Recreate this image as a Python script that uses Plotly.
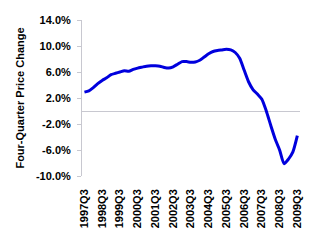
import plotly.graph_objects as go

quarters = []
for y in range(1997, 2010):
    for q in range(1, 5):
        quarters.append(f"{y}Q{q}")
quarters = quarters[quarters.index("1997Q3"):quarters.index("2009Q3") + 1]

price_change = [2.9, 3.1, 3.6, 4.2, 4.7, 5.1, 5.6, 5.8, 6.0, 6.2,
                6.1, 6.4, 6.6, 6.75, 6.9, 6.95, 6.95, 6.9, 6.7, 6.6,
                6.8, 7.2, 7.6, 7.6, 7.5, 7.55, 7.8, 8.3, 8.8, 9.15,
                9.3, 9.4, 9.5, 9.4, 9.0, 8.1, 6.3, 4.5, 3.3, 2.6,
                1.8, 0.0, -2.2, -4.3, -6.0, -8.1, -7.4, -6.3, -3.8]

y_ticks = [14, 10, 6, 2, -2, -6, -10]
y_labels = [f"{v:.1f}%" for v in y_ticks]

idx = list(range(len(quarters)))
x_tickvals = [i for i, q in enumerate(quarters) if q.endswith("Q3")]
x_ticktext = [quarters[i] for i in x_tickvals]

fig = go.Figure()
fig.add_trace(go.Scatter(
    x=idx, y=price_change, mode="lines",
    line=dict(color="#0000DD", width=3, shape="spline", smoothing=0.6),
    showlegend=False, hoverinfo="skip"))

font_family = "Liberation Sans, Arial, sans-serif"

fig.update_layout(
    width=325, height=251,
    margin=dict(l=82, r=25, t=20, b=75),
    paper_bgcolor="white", plot_bgcolor="white",
    font=dict(family=font_family, size=11, color="black"),
    xaxis=dict(
        range=[-0.55, 48.6],
        tickvals=x_tickvals, ticktext=x_ticktext,
        tickangle=-90, showgrid=False, zeroline=False, showline=False,
        ticks="", ticklabelstandoff=10,
        tickfont=dict(family=font_family, size=11, weight="bold", color="black"),
        fixedrange=True),
    yaxis=dict(
        range=[-10, 14],
        tickvals=y_ticks, ticktext=y_labels,
        showgrid=False,
        zeroline=True, zerolinecolor="#C8C8D0", zerolinewidth=1,
        showline=True, linecolor="#C8C8D0", linewidth=1,
        ticks="outside", ticklen=4, tickcolor="#C8C8D0",
        ticklabelstandoff=4,
        tickfont=dict(family=font_family, size=11, weight="bold", color="black"),
        title=dict(text="Four-Quarter Price Change", standoff=9,
                   font=dict(family=font_family, size=11, weight="bold", color="black")),
        automargin=False,
        fixedrange=True),
)

fig.write_html("out.html")
